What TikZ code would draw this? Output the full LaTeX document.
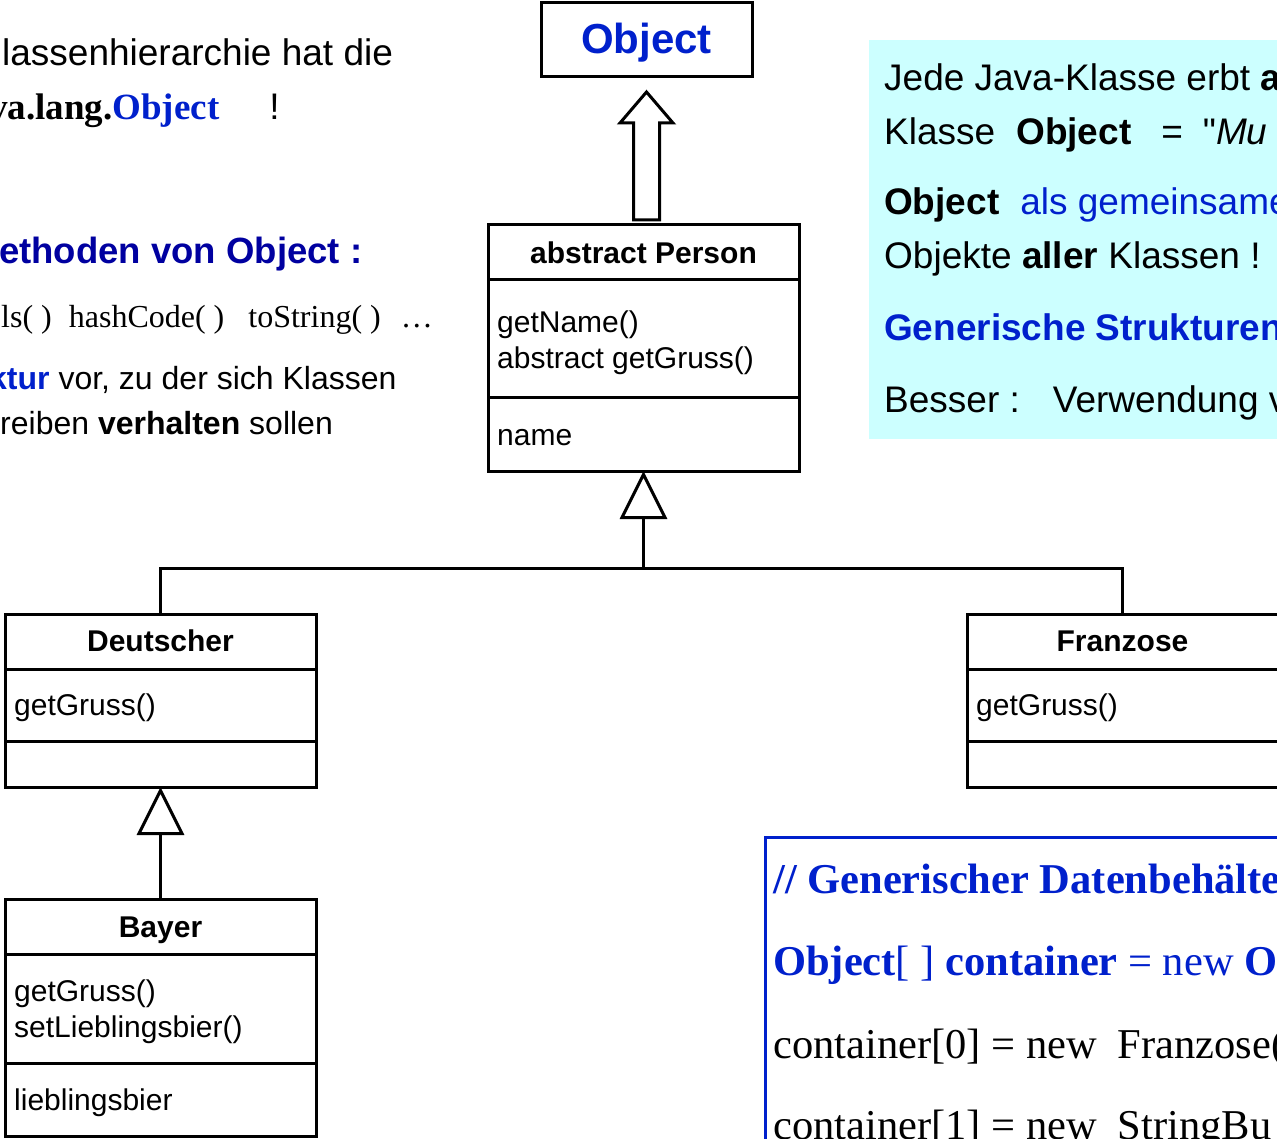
\documentclass[tikz,border=0pt]{standalone}
\usepackage{fontspec}
\setmainfont{Liberation Sans}
\newfontfamily\timesfont{Liberation Serif}
\newfontfamily\quotefont{Liberation Sans}
\usetikzlibrary{arrows.meta,positioning,calc}

\definecolor{objblue}{RGB}{0,32,204}
\definecolor{headblue}{RGB}{0,0,160}
\definecolor{noteback}{RGB}{204,255,255}
\newcommand{\setsz}[1]{\fontsize{#1}{#1}\selectfont}

\begin{document}
\begin{tikzpicture}[
  x=1pt, y=-1pt,
  classbox/.style={draw, line width=3pt, minimum width=311pt, inner sep=0pt, outer sep=0pt},
  classname/.style={font=\bfseries\setsz{30}, inner sep=0pt},
  member/.style={anchor=base west, inner sep=0pt, font=\setsz{30}},
  divider/.style={line width=3pt},
  inherit/.style={line width=3pt, -{Triangle[open, length=48pt, width=47pt]}},
  textline/.style={anchor=base west, inner sep=0pt, font=\setsz{37}},
  smallline/.style={anchor=base west, inner sep=0pt, font=\setsz{32}},
  codeline/.style={anchor=base west, inner sep=0pt, font=\timesfont\setsz{42.5}, text=objblue}
]
  \useasboundingbox (0,0) rectangle (1277,1139);
  \clip (0,0) rectangle (1277,1139);

  % Text on the left
  \node[textline] (l1) at (2,66) {lassenhierarchie hat die};
  \node[textline] (l2) at (-11,120) {{\timesfont\bfseries va.lang.\textcolor{objblue}{Object}}\hspace{50pt}!};
  \node[textline, font=\bfseries\setsz{36.5}, text=headblue] (l3) at (-1,264) {ethoden von Object :};
  \node[smallline, font=\timesfont\setsz{32}] (l4) at (1,328) {ls( )\hspace{17pt}hashCode( )\hspace{24pt}toString( )\hspace{20pt}\dots};
  \node[smallline] (l5) at (-11,390) {\textcolor{objblue}{\bfseries ktur} vor, zu der sich Klassen};
  \node[smallline] (l6) at (0,435) {reiben \textbf{verhalten} sollen};

  % Note on the right
  \node[fill=noteback, anchor=north west, minimum width=450pt, minimum height=399pt, inner sep=0pt, outer sep=0pt] (note) at (869,40) {};
  \node[textline] (n1) at (884,91) {Jede Java-Klasse erbt \textbf{a}};
  \node[textline] (n2) at (884,145) {Klasse\hspace{21pt}\textbf{Object}\hspace{30pt}=\hspace{20pt}{\quotefont "}\textit{Mu}};
  \node[textline] (n3) at (884,215) {\textbf{Object}\hspace{21pt}\textcolor{objblue}{als gemeinsame}};
  \node[textline] (n4) at (884,269) {Objekte \textbf{aller} Klassen !};
  \node[textline, font=\bfseries\setsz{37}, text=objblue] (n5) at (884,341) {Generische Strukturen};
  \node[textline] (n6) at (884,413) {Besser :\hspace{33pt}Verwendung v};

  % Classes
  \node[classbox, minimum width=211pt, minimum height=74pt] (object) at (646.5,40) {};
  \node[font=\bfseries\setsz{42}, text=objblue] (objname) at ($(object.center)+(0,3)$) {Object};

  \node[classbox, minimum height=246pt] (person) at (643.5,348) {};
  \draw[divider] (person.west |- 0,280) -- (person.east |- 0,280);
  \draw[divider] (person.west |- 0,398) -- (person.east |- 0,398);
  \node[classname] (pname) at (person.north |- 0,253) {abstract Person};
  \node[member] (pm1) at (497,333) {getName()};
  \node[member] (pm2) at (497,369) {abstract getGruss()};
  \node[member] (pa1) at (497,445) {name};

  \node[classbox, minimum height=173pt] (deutscher) at (160.5,700.5) {};
  \draw[divider] (deutscher.west |- 0,669) -- (deutscher.east |- 0,669);
  \draw[divider] (deutscher.west |- 0,741) -- (deutscher.east |- 0,741);
  \node[classname] (dname) at (deutscher.north |- 0,641) {Deutscher};
  \node[member] (dm1) at (14,715) {getGruss()};

  \node[classbox, minimum height=237pt, below=112pt of deutscher] (bayer) {};
  \draw[divider] (bayer.west |- 0,954) -- (bayer.east |- 0,954);
  \draw[divider] (bayer.west |- 0,1063) -- (bayer.east |- 0,1063);
  \node[classname] (bname) at (bayer.north |- 0,930) {Bayer};
  \node[member] (bm1) at (14,1001) {getGruss()};
  \node[member] (bm2) at (14,1037) {setLieblingsbier()};
  \node[member] (ba1) at (14,1110) {lieblingsbier};

  \node[classbox, minimum height=173pt, right=651pt of deutscher] (franzose) {};
  \draw[divider] (franzose.west |- 0,669) -- (franzose.east |- 0,669);
  \draw[divider] (franzose.west |- 0,741) -- (franzose.east |- 0,741);
  \node[classname] (fname) at (franzose.north |- 0,641) {Franzose};
  \node[member] (fm1) at (976,715) {getGruss()};

  % Inheritance
  \coordinate (fork) at (person.south |- 0,568);
  \draw[divider] (deutscher.north) |- (fork) -| (franzose.north);
  \draw[inherit] (fork) -- (person.south);
  \draw[inherit] (bayer.north) -- (deutscher.south);

  \coordinate (tip) at ($(object.south)+(0,15)$);
  \coordinate (tail) at ($(tip |- person.north)+(0,-5)$);
  \draw[line width=3pt, fill=white] ($(tail)+(-13,0)$) -- ($(tip)+(-13,31)$) -- ($(tip)+(-26.5,31)$)
    -- (tip) -- ($(tip)+(26.5,31)$) -- ($(tip)+(13,31)$) -- ($(tail)+(13,0)$) -- cycle;

  % Code
  \node[draw=objblue, line width=3pt, anchor=north west, minimum width=600pt, minimum height=400pt, inner sep=0pt, outer sep=0pt] (code) at (765,837) {};
  \node[codeline] (c1) at (773,893) {\bfseries // Generischer Datenbehälte};
  \node[codeline] (c2) at (773,975) {\textbf{Object}[ ] \textbf{container} = new \textbf{O}};
  \node[codeline, text=black] (c3) at (773,1058) {container[0] = new\hspace{21pt}Franzose(};
  \node[codeline, text=black] (c4) at (773,1139) {container[1] = new\hspace{21pt}StringBu};
\end{tikzpicture}
\end{document}
